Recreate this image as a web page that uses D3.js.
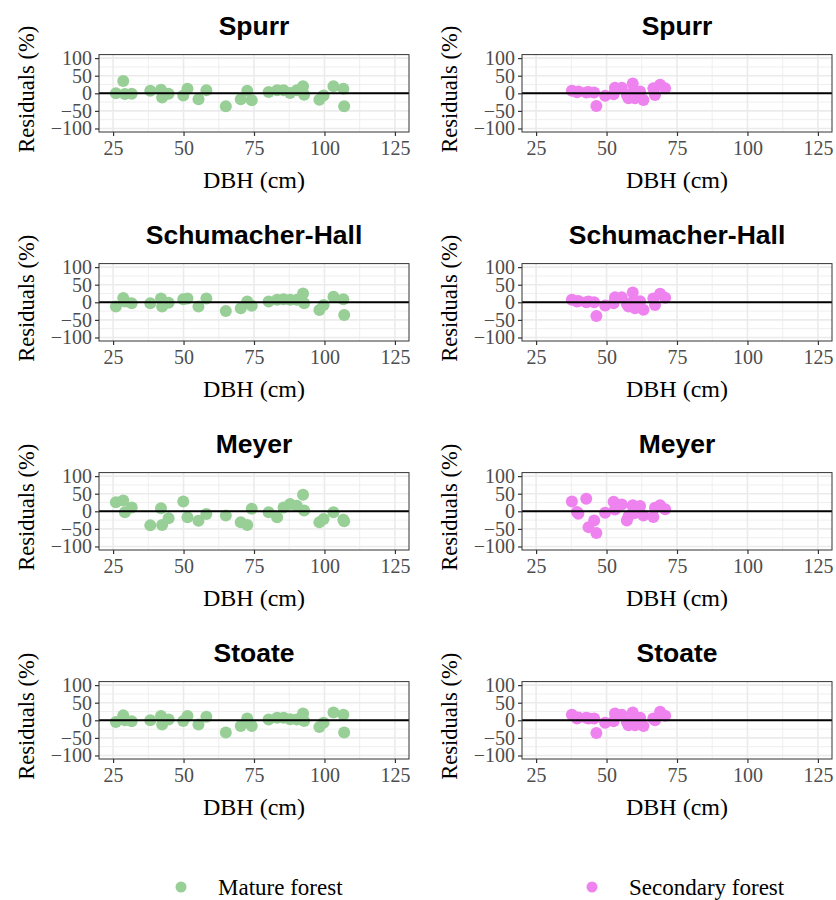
<!DOCTYPE html>
<html>
<head>
<meta charset="utf-8">
<script src="https://cdn.jsdelivr.net/npm/d3@7"></script>
<style>
  body { margin: 0; background: #fff; }
  svg { display: block; }
  .tick text { font-family: "Liberation Serif", "Times New Roman", serif; font-size: 20px; fill: #4d4d4d; }
  .tick line { stroke: #333; }
</style>
</head>
<body>
<script>
// tree diameters (cm)
var matureDbh = [26, 28.6, 29.2, 31.6, 38.2, 42, 42.4, 44.7, 49.9, 51.4, 55.3, 58.1, 65, 70.3,
  72.6, 74.2, 80.2, 83.2, 85.5, 87.8, 90.2, 92.4, 92.8, 98.2, 99.7, 103.2, 106.7, 107];
var secondaryDbh = [37.7, 39.5, 40, 42.8, 43.6, 45.6, 46.4, 49.5, 52.5, 53, 55.4, 57.2, 57.8,
  59.3, 59.5, 60.1, 61.9, 63.1, 66.6, 67.2, 69, 70.8];

// residuals (%) per model
var spurrMature = [0, 35, -2, -1, 7, 10, -12, -1, -6, 13, -17, 9, -37, -17, 7, -20, 4, 9, 9, 1, 9, 20, -4, -18, -6, 20, 13, -37];
var schumMature = [-12, 12, 2, -3, -3, 11, -12, -1, 9, 11, -12, 11, -25, -17, 2, -10, 2, 7, 9, 7, 7, 25, -3, -22, -8, 16, 9, -36];
var meyerMature = [26, 31, -3, 11, -40, 9, -39, -20, 28, -17, -27, -8, -12, -31, -39, 7, -3, -17, 11, 21, 16, 47, 2, -31, -22, -3, -24, -28];
var stoateMature = [-5, 14, 0, -3, 0, 12, -12, 2, -2, 12, -12, 10, -35, -16, 5, -16, 2, 7, 7, 3, 2, 19, -2, -19, -7, 22, 16, -35];

var spurrSecondary = [7, 3, 5, 2, 4, 2, -36, -7, -3, 16, 16, -5, -14, 28, 5, -14, 5, -19, 14, -5, 24, 14];
var schumSecondary = [7, 2, 4, 0, 2, 0, -39, -9, -3, 14, 14, -5, -12, 28, 3, -17, 3, -21, 11, -8, 24, 13];
var meyerSecondary = [28, -2, -7, 36, -45, -26, -62, -4, 27, 5, 19, -26, -14, 17, 8, -5, 15, -12, -16, 10, 17, 6];
var stoateSecondary = [16, 5, 8, 7, 5, 5, -36, -7, -3, 19, 16, -5, -14, 22, 5, -14, 7, -16, 5, 0, 24, 13];

var models = ["Spurr", "Schumacher-Hall", "Meyer", "Stoate"];
var matureRes = [spurrMature, schumMature, meyerMature, stoateMature];
var secondaryRes = [spurrSecondary, schumSecondary, meyerSecondary, stoateSecondary];

var xTicks = [25, 50, 75, 100, 125];
var xMinor = [37.5, 62.5, 87.5, 112.5];
var yTicks = [-100, -50, 0, 50, 100];
var yMinor = [-75, -25, 25, 75];

var groups = ["Mature forest", "Secondary forest"];
var colors = ["#97cf97", "#ee82ee"];

var serif = '"Liberation Serif", "Times New Roman", serif';
var sans = '"Liberation Sans", Arial, sans-serif';

var svg = d3.select("body").append("svg")
    .attr("width", 836)
    .attr("height", 900);

var panelW = 310, panelH = 77.4;

function drawPanel(row, col, title, dbh, res, color) {
  var x0 = 99 + col * 423, y0 = 54.6 + row * 209;
  var x = d3.scaleLinear().domain([20, 130]).range([x0, x0 + panelW]);
  var y = d3.scaleLinear().domain([-110, 110]).range([y0 + panelH, y0]);
  var g = svg.append("g");

  // grid
  g.selectAll(".xmin").data(xMinor).enter().append("line")
    .attr("x1", function(d) { return x(d); }).attr("x2", function(d) { return x(d); })
    .attr("y1", y0).attr("y2", y0 + panelH)
    .attr("stroke", "#ebebeb").attr("stroke-width", 0.8);
  g.selectAll(".ymin").data(yMinor).enter().append("line")
    .attr("y1", function(d) { return y(d); }).attr("y2", function(d) { return y(d); })
    .attr("x1", x0).attr("x2", x0 + panelW)
    .attr("stroke", "#ebebeb").attr("stroke-width", 0.8);
  g.selectAll(".xmaj").data(xTicks).enter().append("line")
    .attr("x1", function(d) { return x(d); }).attr("x2", function(d) { return x(d); })
    .attr("y1", y0).attr("y2", y0 + panelH)
    .attr("stroke", "#ebebeb").attr("stroke-width", 1.6);
  g.selectAll(".ymaj").data(yTicks).enter().append("line")
    .attr("y1", function(d) { return y(d); }).attr("y2", function(d) { return y(d); })
    .attr("x1", x0).attr("x2", x0 + panelW)
    .attr("stroke", "#ebebeb").attr("stroke-width", 1.6);

  // points
  g.selectAll("circle").data(dbh).enter().append("circle")
    .attr("cx", function(d) { return x(d); })
    .attr("cy", function(d, i) { return y(res[i]); })
    .attr("r", 6)
    .attr("fill", color);

  // zero line, drawn over the points
  g.append("line")
    .attr("x1", x0).attr("x2", x0 + panelW)
    .attr("y1", y(0)).attr("y2", y(0))
    .attr("stroke", "#000").attr("stroke-width", 2);

  g.append("rect")
    .attr("x", x0).attr("y", y0).attr("width", panelW).attr("height", panelH)
    .attr("fill", "none").attr("stroke", "#333").attr("stroke-width", 1);

  // axes
  var ax = g.append("g").attr("transform", "translate(0," + (y0 + panelH) + ")")
    .call(d3.axisBottom(x).tickValues(xTicks).tickSize(4).tickPadding(5));
  ax.select(".domain").remove();
  ax.selectAll(".tick line").attr("stroke-width", 1.2);

  var ay = g.append("g").attr("transform", "translate(" + x0 + ",0)")
    .call(d3.axisLeft(y).tickValues(yTicks).tickSize(4).tickPadding(3));
  ay.select(".domain").remove();
  ay.selectAll(".tick line").attr("stroke-width", 1.2);

  // titles
  g.append("text")
    .attr("x", x0 + panelW / 2).attr("y", y0 - 20)
    .attr("text-anchor", "middle")
    .style("font-family", sans).style("font-weight", "bold").style("font-size", "26.5px")
    .text(title);

  g.append("text")
    .attr("x", x0 + panelW / 2).attr("y", y0 + panelH + 56)
    .attr("text-anchor", "middle")
    .style("font-family", serif).style("font-size", "24px")
    .text("DBH (cm)");

  g.append("text")
    .attr("transform", "translate(" + (x0 - 65) + "," + (y0 + panelH / 2 - 4) + ") rotate(-90)")
    .attr("text-anchor", "middle")
    .style("font-family", serif).style("font-size", "22.5px")
    .text("Residuals (%)");
}

models.forEach(function(m, i) {
  drawPanel(i, 0, m, matureDbh, matureRes[i], colors[0]);
  drawPanel(i, 1, m, secondaryDbh, secondaryRes[i], colors[1]);
});

// legend
var legX = [181, 592];
var leg = svg.selectAll(".leg").data(groups).enter().append("g")
  .attr("transform", function(d, i) { return "translate(" + legX[i] + ",887)"; });
leg.append("circle").attr("r", 5.5).attr("fill", function(d, i) { return colors[i]; });
leg.append("text")
  .attr("x", 37).attr("y", 8)
  .style("font-family", serif).style("font-size", "23px")
  .text(function(d) { return d; });
</script>
</body>
</html>
